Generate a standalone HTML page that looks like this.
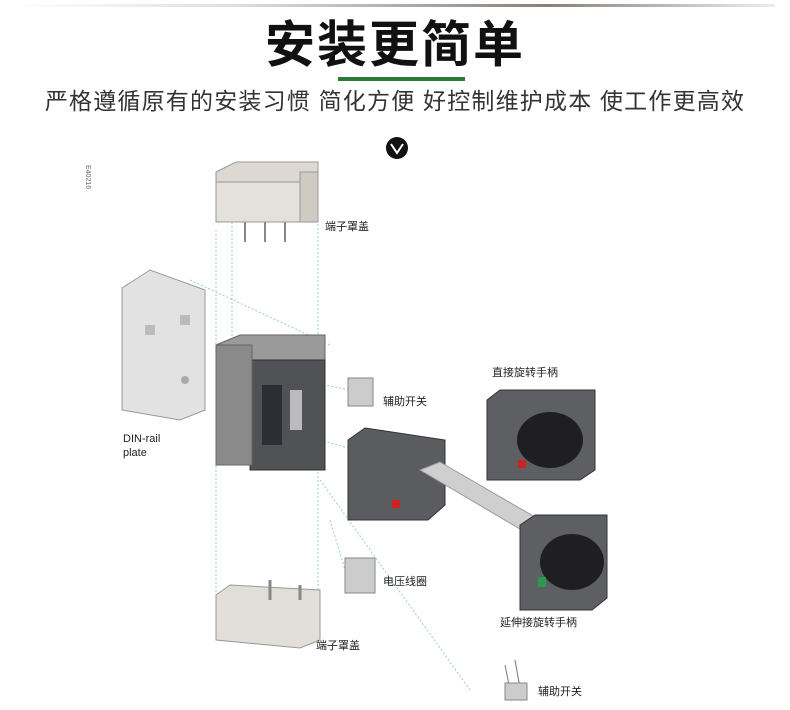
<!DOCTYPE html>
<html><head><meta charset="utf-8"><style>
body{margin:0;width:790px;height:710px;background:#fff;position:relative;overflow:hidden;font-family:"Liberation Sans","Noto Sans CJK SC",sans-serif}
.a{position:absolute}
.l{position:absolute;font-size:11px;color:#222;font-family:"Liberation Sans","Noto Sans CJK SC",sans-serif}
</style></head><body>
<div class="a" style="left:15px;top:4px;width:760px;height:3px;background:linear-gradient(90deg,#fff,#ddd 30%,#8a7f78 70%,#eee)"></div>
<div class="a" style="left:0;top:14px;width:790px;text-align:center;font-size:50px;font-weight:bold;color:#111;letter-spacing:2px;line-height:62px">安装更简单</div>
<div class="a" style="left:338px;top:77px;width:127px;height:4px;background:#2a7a3a"></div>
<div class="a" style="left:0;top:86px;width:790px;text-align:center;font-size:23px;color:#333;line-height:30px;letter-spacing:1.2px">严格遵循原有的安装习惯 简化方便 好控制维护成本 使工作更高效</div>
<svg class="a" style="left:0;top:0" width="790" height="710">
<circle cx="397" cy="148" r="11" fill="#111"/>
<path d="M391 144 L397 153 L403 144" stroke="#fff" stroke-width="2" fill="none"/>
<g stroke="#9cc" stroke-dasharray="2,2" fill="none" stroke-width="1">
<line x1="216" y1="230" x2="216" y2="620"/><line x1="318" y1="200" x2="318" y2="600"/>
<line x1="232" y1="170" x2="232" y2="340"/><line x1="190" y1="280" x2="330" y2="345"/>
<line x1="300" y1="380" x2="350" y2="390"/><line x1="320" y1="440" x2="355" y2="450"/>
<line x1="320" y1="480" x2="470" y2="690"/><line x1="330" y1="520" x2="345" y2="570"/>
</g>
<polygon points="216,172 236,162 318,162 318,200 300,210 216,210" fill="#ddd9d2" stroke="#999"/>
<rect x="216" y="182" width="85" height="40" fill="#e4e0da" stroke="#999"/>
<rect x="300" y="172" width="18" height="50" fill="#cfcac2" stroke="#999"/>
<path d="M245 222v20M265 222v20M285 222v20" stroke="#888" stroke-width="2"/>
<polygon points="122,288 150,270 205,290 205,410 180,420 122,410" fill="#e2e2e2" stroke="#999"/>
<rect x="145" y="325" width="10" height="10" fill="#bbb"/><rect x="180" y="315" width="10" height="10" fill="#bbb"/>
<circle cx="185" cy="380" r="4" fill="#aaa"/>
<polygon points="216,345 240,335 325,335 325,450 300,465 216,465" fill="#9a9a9a" stroke="#666"/>
<rect x="250" y="360" width="75" height="110" fill="#505256" stroke="#333"/>
<rect x="216" y="345" width="36" height="120" fill="#8a8a8a" stroke="#666"/>
<rect x="262" y="385" width="20" height="60" fill="#2c2e33"/>
<rect x="290" y="390" width="12" height="40" fill="#bbb"/>
<rect x="348" y="378" width="25" height="28" fill="#ccc" stroke="#888"/>
<polygon points="348,440 365,428 445,440 445,505 428,520 348,520" fill="#5a5c60" stroke="#333"/>
<rect x="392" y="500" width="8" height="8" fill="#c22"/>
<polygon points="420,470 440,462 540,520 525,532" fill="#cfcfcf" stroke="#999"/>
<polygon points="487,400 500,390 595,390 595,470 580,480 487,480" fill="#5d5f63" stroke="#333"/>
<ellipse cx="550" cy="440" rx="33" ry="28" fill="#1f1f22"/>
<rect x="518" y="460" width="8" height="8" fill="#c22"/>
<polygon points="520,525 535,515 607,515 607,598 592,610 520,610" fill="#5d5f63" stroke="#333"/>
<ellipse cx="572" cy="562" rx="32" ry="28" fill="#1f1f22"/>
<rect x="538" y="577" width="8" height="10" fill="#2a9a4a"/>
<rect x="345" y="558" width="30" height="35" fill="#ccc" stroke="#888"/>
<polygon points="216,595 230,585 320,590 320,640 300,648 216,640" fill="#e2ded8" stroke="#999"/>
<path d="M270 580v20M300 585v15" stroke="#888" stroke-width="3"/>
<path d="M505 665l5 25M515 660l5 28" stroke="#777"/>
<rect x="505" y="683" width="22" height="17" fill="#ccc" stroke="#888"/>
<text x="116" y="195" font-size="7" fill="#666" transform="rotate(90 116 165)">E40216</text>
</svg>
<div class="l" style="left:325px;top:218px">端子罩盖</div>
<div class="l" style="left:383px;top:393px">辅助开关</div>
<div class="l" style="left:123px;top:432px;line-height:14px">DIN-rail<br>plate</div>
<div class="l" style="left:492px;top:364px">直接旋转手柄</div>
<div class="l" style="left:383px;top:573px">电压线圈</div>
<div class="l" style="left:316px;top:637px">端子罩盖</div>
<div class="l" style="left:500px;top:614px">延伸接旋转手柄</div>
<div class="l" style="left:538px;top:683px">辅助开关</div>
</body></html>
